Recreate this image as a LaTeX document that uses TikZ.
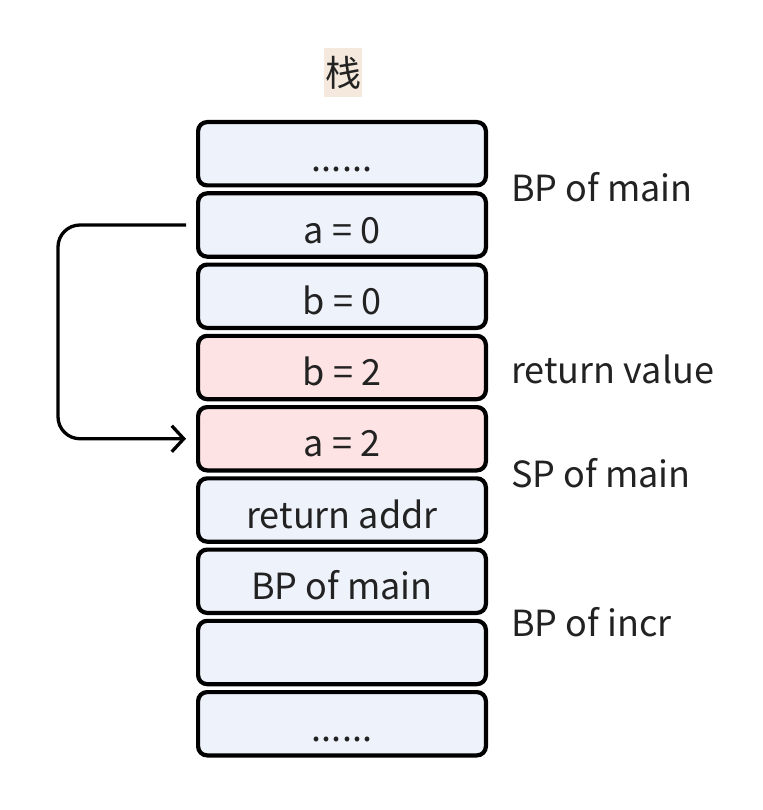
\documentclass[tikz,border=0pt]{standalone}
\usepackage{fontspec}
\setmainfont{Noto Sans CJK SC}
\usetikzlibrary{arrows.meta,calc}
\definecolor{cellblue}{HTML}{EEF2FA}
\definecolor{cellred}{HTML}{FDE3E3}
\definecolor{titlebg}{HTML}{F5E8DC}
\definecolor{ink}{HTML}{222222}
\begin{document}
\begin{tikzpicture}[x=1pt,y=-1pt,
  txt/.style={text=ink, font=\fontsize{36}{43}\selectfont},
  cell/.style={draw=black, line width=4.2pt, rounded corners=9pt,
    minimum width=287.8pt, minimum height=63.3pt, inner sep=0pt,
    fill=cellblue, txt, text height=36pt, text depth=0pt},
  hot/.style={cell, fill=cellred},
  side/.style={txt, anchor=base west, inner sep=0pt},
  flow/.style={draw=black, line width=3.3pt, rounded corners=22pt,
    -{Straight Barb[length=12pt,width=26pt]}}
]
\useasboundingbox (0,0) rectangle (762,810);

% title
\node[txt, fill=titlebg, minimum width=38pt, minimum height=49pt, inner sep=0pt]
  (title) at (343,72.5) {栈};

% stack cells, top to bottom
\node[cell] (c0) at (342,153.75) {......};
\node[cell] (c1) at (342,225.00) {a = 0};
\node[cell] (c2) at (342,296.25) {b = 0};
\node[hot]  (c3) at (342,367.50) {b = 2};
\node[hot]  (c4) at (342,438.75) {a = 2};
\node[cell] (c5) at (342,510.00) {return addr};
\node[cell] (c6) at (342,581.25) {BP of main};
\node[cell] (c7) at (342,652.50) {};
\node[cell] (c8) at (342,723.75) {......};

% register labels on the right
\node[side] (l0) at (511,202) {BP of main};
\node[side] (l1) at (511,383) {return value};
\node[side] (l2) at (511,487) {SP of main};
\node[side] (l3) at (511,636) {BP of incr};

% copy of the arguments
\coordinate (s) at ($(c1.west)+(-10,0)$);
\coordinate (e) at ($(c4.west)+(-10,0)$);
\draw[flow] (s) -- ++(-128,0) |- (e);
\end{tikzpicture}
\end{document}
